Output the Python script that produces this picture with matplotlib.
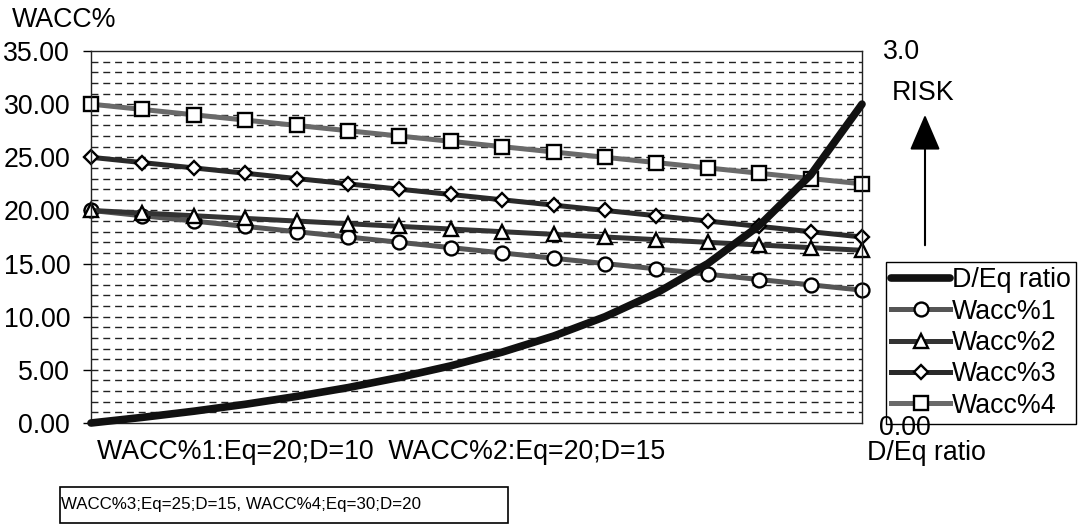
""" WACC vs D/Eq ratio chart """

import matplotlib.pyplot as plt
from matplotlib import patches

plt.rcParams['font.family'] = ['Liberation Sans', 'DejaVu Sans']

# step index along the x axis (16 points)
steps = list(range(16))

# D/Eq ratio read on the right (risk) axis
de_ratio = [0.0, 0.053, 0.111, 0.176, 0.25, 0.333, 0.429, 0.538,
            0.667, 0.818, 1.0, 1.222, 1.5, 1.857, 2.333, 3.0]

wacc1 = [20.0, 19.5, 19.0, 18.5, 18.0, 17.5, 17.0, 16.5,
         16.0, 15.5, 15.0, 14.5, 14.0, 13.5, 13.0, 12.5]
wacc2 = [20.0, 19.75, 19.5, 19.25, 19.0, 18.75, 18.5, 18.25,
         18.0, 17.75, 17.5, 17.25, 17.0, 16.75, 16.5, 16.25]
wacc3 = [25.0, 24.5, 24.0, 23.5, 23.0, 22.5, 22.0, 21.5,
         21.0, 20.5, 20.0, 19.5, 19.0, 18.5, 18.0, 17.5]
wacc4 = [30.0, 29.5, 29.0, 28.5, 28.0, 27.5, 27.0, 26.5,
         26.0, 25.5, 25.0, 24.5, 24.0, 23.5, 23.0, 22.5]

left_ticks = [0, 5, 10, 15, 20, 25, 30, 35]
left_labels = ['0.00', '5.00', '10.00', '15.00', '20.00', '25.00', '30.00', '35.00']

FS = 19.3
W, H = 1082, 524
fig = plt.figure(figsize=(W / 100, H / 100), dpi=100)
ax = fig.add_axes([91 / W, 1 - 423 / H, 771 / W, 372 / H])

# dashed grid every 1.0
for y in range(1, 35):
    ax.axhline(y, color='#222222', lw=1.0, ls=(0, (5, 3.5)), zorder=0)

marker_kw = dict(markerfacecolor='white', markeredgecolor='black',
                 markeredgewidth=1.7, lw=3.6, clip_on=False)
l1, = ax.plot(steps, wacc1, color='#555555', marker='o', markersize=10, **marker_kw)
l2, = ax.plot(steps, wacc2, color='#333333', marker='^', markersize=10, **marker_kw)
l3, = ax.plot(steps, wacc3, color='#2a2a2a', marker='D', markersize=7.5, **marker_kw)
l4, = ax.plot(steps, wacc4, color='#6a6a6a', marker='s', markersize=10.5, **marker_kw)

ax.set_xlim(0, 15)
ax.set_ylim(0, 35)
ax.set_xticks([])
ax.set_yticks(left_ticks, left_labels, fontsize=FS)
ax.tick_params(axis='y', length=6, width=1, pad=9)
for s in ax.spines.values():
    s.set_linewidth(1.0)
    s.set_color('#222222')

# risk axis (right)
ax2 = ax.twinx()
ax2.set_ylim(0, 3.5)
ax2.set_yticks([])
for s in ax2.spines.values():
    s.set_visible(False)
l0, = ax2.plot(steps, de_ratio, color='#111111', lw=5.5, clip_on=False,
               solid_capstyle='round', solid_joinstyle='round', zorder=5)
ax2.set_zorder(ax.get_zorder() + 1)
ax2.patch.set_visible(False)

fig.text(12 / W, 1 - 20 / H, 'WACC%', fontsize=FS, va='center', ha='left')
fig.text(883 / W, 1 - 52 / H, '3.0', fontsize=FS, va='center', ha='left')
fig.text(892 / W, 1 - 93 / H, 'RISK', fontsize=FS, va='center', ha='left')
fig.text(879 / W, 1 - 428 / H, '0.00', fontsize=FS, va='center', ha='left',
         zorder=10)
fig.text(867 / W, 1 - 453 / H, 'D/Eq ratio', fontsize=FS, va='center', ha='left')
fig.text(97 / W, 1 - 452 / H, 'WACC%1:Eq=20;D=10  WACC%2:Eq=20;D=15',
         fontsize=FS, va='center', ha='left')

# arrow pointing up to RISK
fig.add_artist(patches.FancyArrowPatch(
    (925 / W, 1 - 248 / H), (925 / W, 1 - 112 / H), transform=fig.transFigure,
    arrowstyle='-|>,head_length=1.4,head_width=0.6', mutation_scale=16,
    color='black', lw=1.5))

# boxed note at the bottom
fig.add_artist(patches.Rectangle((60 / W, 1 - 523 / H), 448 / W, 36 / H,
                                 transform=fig.transFigure, fill=False,
                                 edgecolor='black', lw=1.2))
fig.text(61 / W, 1 - 504 / H, 'WACC%3;Eq=25;D=15, WACC%4;Eq=30;D=20',
         fontsize=12.2, va='center', ha='left')

leg = fig.legend([l0, l1, l2, l3, l4],
                 ['D/Eq ratio', 'Wacc%1', 'Wacc%2', 'Wacc%3', 'Wacc%4'],
                 loc='upper left', bbox_to_anchor=(886 / W, 1 - 262 / H),
                 fontsize=FS, frameon=True, fancybox=False, framealpha=1,
                 edgecolor='black', handlelength=2.2, handletextpad=0.05,
                 labelspacing=0.2, borderpad=0.2, borderaxespad=0)
leg.get_frame().set_linewidth(1.0)
leg.set_zorder(5)

fig.savefig('out.png', dpi=100)
